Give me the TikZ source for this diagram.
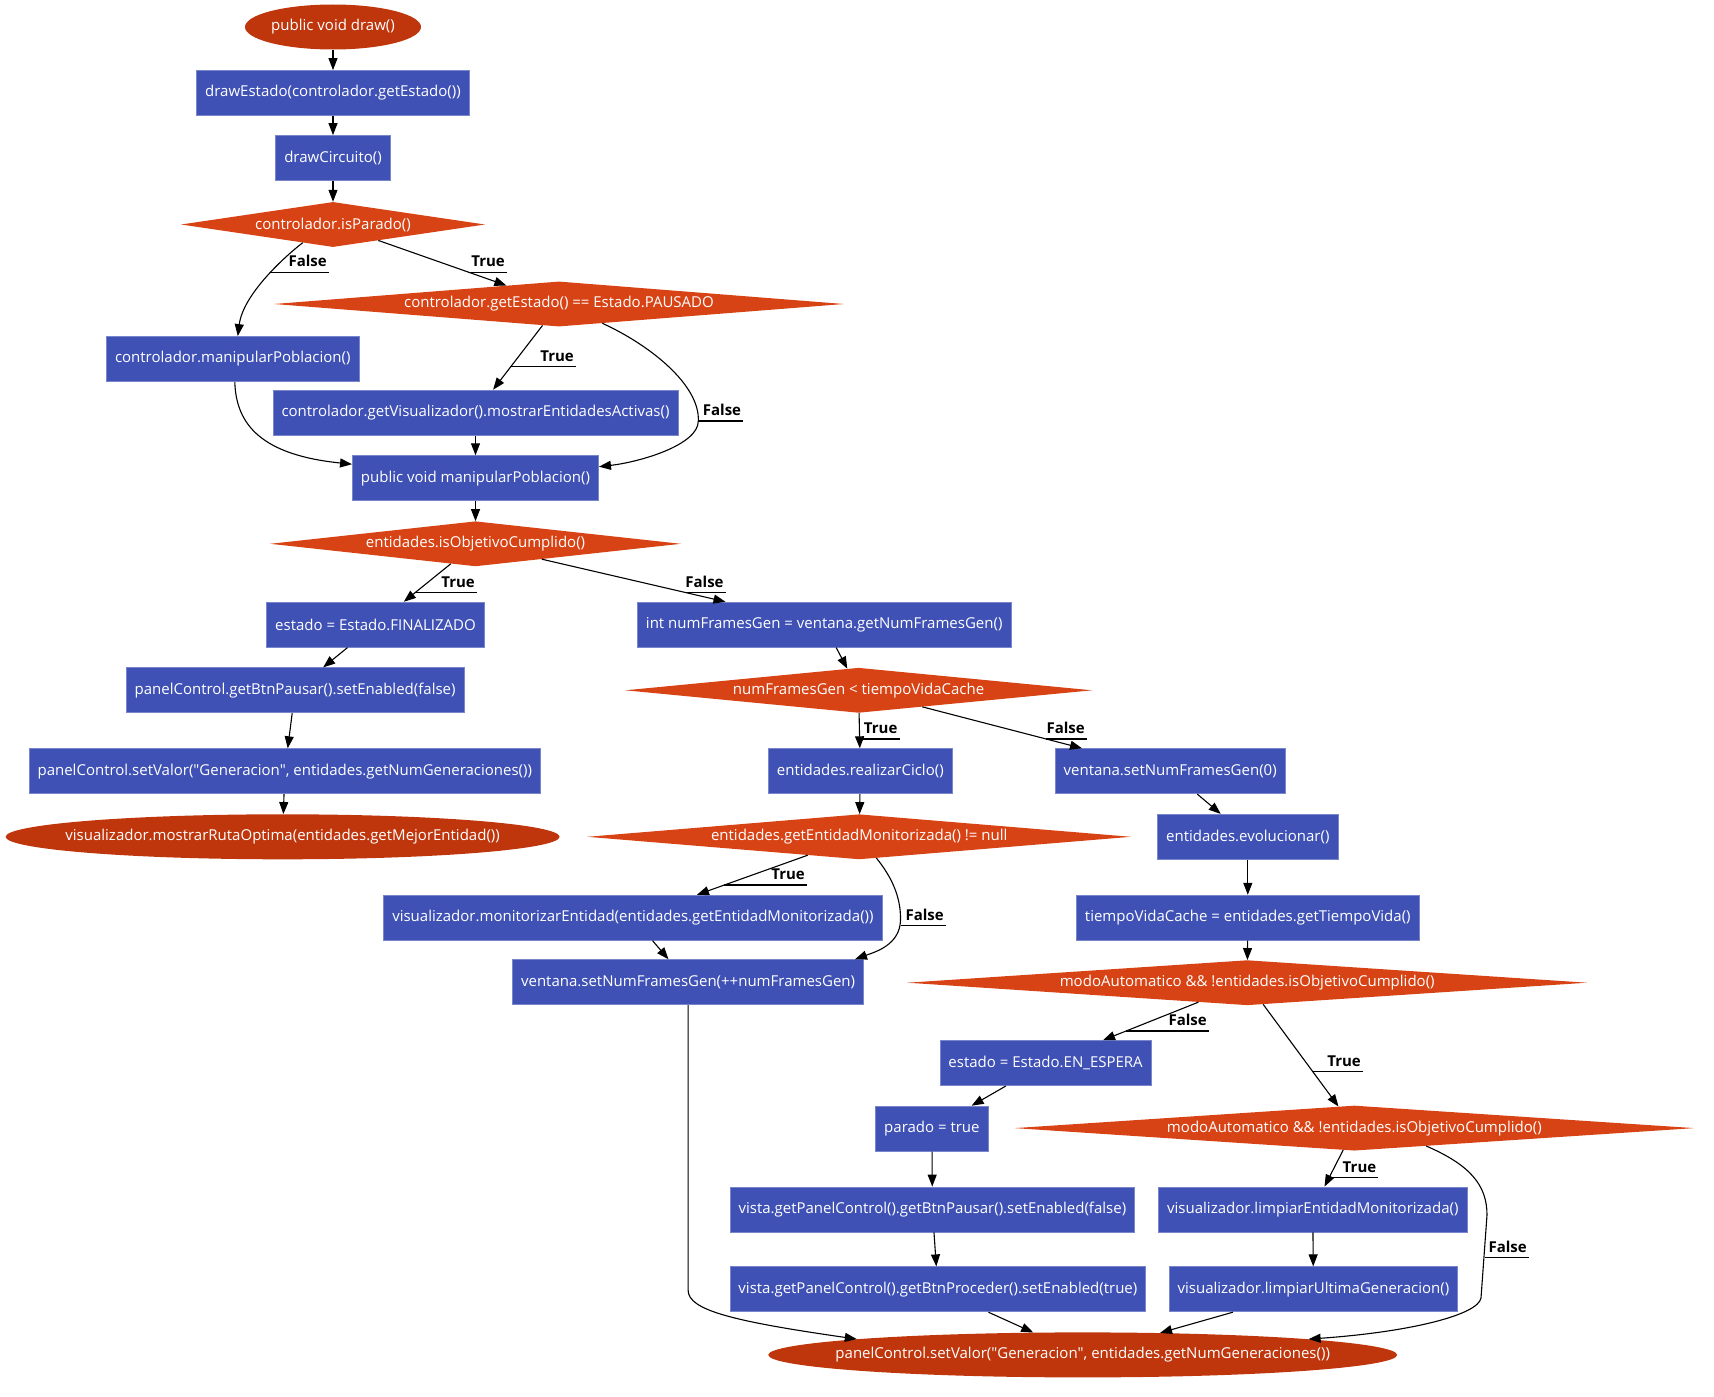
\documentclass[tikz,border=0pt]{standalone}
\usepackage{fontspec}
\setmainfont{Open Sans}
\usetikzlibrary{shapes.geometric,arrows.meta,calc}

\definecolor{boxblue}{HTML}{3F51B5}
\definecolor{boxline}{HTML}{7986CB}
\definecolor{decorange}{HTML}{D84315}
\definecolor{termred}{HTML}{BF360C}

\begin{document}
\begin{tikzpicture}[
        x=1pt, y=-1pt,
        font=\fontsize{15}{17}\selectfont,
        box/.style={rectangle, draw=boxline, line width=0.8pt, fill=boxblue, text=white, minimum height=45pt, inner xsep=8.5pt},
        decision/.style={diamond, fill=decorange, text=white, inner sep=0pt, minimum height=45pt, minimum width=#1, execute at begin node={\hbox to 0pt\bgroup\hss}, execute at end node={\hss\egroup}},
        terminal/.style={ellipse, fill=termred, text=white, inner sep=0pt, minimum height=45pt, minimum width=#1, execute at begin node={\hbox to 0pt\bgroup\hss}, execute at end node={\hss\egroup}},
        arrow/.style={-{Triangle[length=12pt,width=9pt]}, line width=1.1pt},
        lbl/.style={font=\fontsize{15}{17}\selectfont\bfseries, anchor=south east, inner xsep=2pt, inner ysep=5pt}
    ]
    \useasboundingbox (0,0) rectangle (1714,1397);

    \node[terminal=176pt] (draw) at (333,27) {public void draw()};
    \node[box] (estado) at (333,93) {drawEstado(controlador.getEstado())};
    \node[box] (circuito) at (333,158) {drawCircuito()};
    \node[decision=304pt] (parado) at (333,224.5) {controlador.isParado()};
    \node[decision=570pt] (pausado) at (559,304) {controlador.getEstado() == Estado.PAUSADO};
    \node[box] (manipular) at (232.8,359) {controlador.manipularPoblacion()};
    \node[box] (activas) at (475.5,412.6) {controlador.getVisualizador().mostrarEntidadesActivas()};
    \node[box] (poblacion) at (475.5,478.2) {public void manipularPoblacion()};
    \node[decision=411pt] (objetivo) at (475.5,543.8) {entidades.isObjetivoCumplido()};
    \node[box] (finalizado) at (375.5,624.7) {estado = Estado.FINALIZADO};
    \node[box] (frames) at (824.2,624.7) {int numFramesGen = ventana.getNumFramesGen()};
    \node[box] (btnpausar) at (295.1,690.3) {panelControl.getBtnPausar().setEnabled(false)};
    \node[decision=467pt] (cache) at (858.6,690.3) {numFramesGen < tiempoVidaCache};
    \node[box] (valor) at (284.8,771.2) {panelControl.setValor(\textquotedbl Generacion\textquotedbl, entidades.getNumGeneraciones())};
    \node[box] (ciclo) at (860.3,771.2) {entidades.realizarCiclo()};
    \node[box] (framescero) at (1170.2,771.2) {ventana.setNumFramesGen(0)};
    \node[terminal=554pt] (ruta) at (282.6,836.8) {visualizador.mostrarRutaOptima(entidades.getMejorEntidad())};
    \node[decision=544pt] (monitorizada) at (859.2,836.8) {entidades.getEntidadMonitorizada() != null};
    \node[box] (evolucionar) at (1247.8,836.8) {entidades.evolucionar()};
    \node[box] (monitorizar) at (632.9,917.7) {visualizador.monitorizarEntidad(entidades.getEntidadMonitorizada())};
    \node[box] (vida) at (1247.8,917.7) {tiempoVidaCache = entidades.getTiempoVida()};
    \node[box] (framesmas) at (688.1,982.2) {ventana.setNumFramesGen(++numFramesGen)};
    \node[decision=680pt] (modo) at (1247.2,982.7) {modoAutomatico \&\& !entidades.isObjetivoCumplido()};
    \node[box] (espera) at (1045.6,1063.1) {estado = Estado.EN\_ESPERA};
    \node[box] (paradotrue) at (931.9,1128.6) {parado = true};
    \node[decision=680pt] (modobis) at (1354.4,1128.1) {modoAutomatico \&\& !entidades.isObjetivoCumplido()};
    \node[box] (vistapausar) at (932.4,1209.5) {vista.getPanelControl().getBtnPausar().setEnabled(false)};
    \node[box] (limpiarent) at (1312.8,1209.5) {visualizador.limpiarEntidadMonitorizada()};
    \node[box] (vistaproceder) at (937.9,1289.3) {vista.getPanelControl().getBtnProceder().setEnabled(true)};
    \node[box] (limpiarult) at (1313.4,1289.3) {visualizador.limpiarUltimaGeneracion()};
    \node[terminal=629pt] (valorfin) at (1082.7,1354.9) {panelControl.setValor(\textquotedbl Generacion\textquotedbl, entidades.getNumGeneraciones())};

    \draw[arrow] (draw) -- (estado);
    \draw[arrow] (estado) -- (circuito);
    \draw[arrow] (circuito) -- (parado);
    \draw[arrow] (parado.211) .. controls (283,258) and (243,295) .. ([xshift=5pt]manipular.north);
    \draw[arrow] (parado) -- (pausado);
    \draw[arrow] (pausado) -- (activas);
    \draw[arrow] (pausado.-24) .. controls (650,345) and (700,385) .. (698.3,421) .. controls (698.3,445) and (640,462) .. ([yshift=11.5pt]poblacion.east);
    \draw[arrow] ([xshift=2pt]manipular.south) .. controls (236,425) and (262,455) .. ([yshift=14pt]poblacion.west);
    \draw[arrow] (activas) -- (poblacion);
    \draw[arrow] (poblacion) -- (objetivo);
    \draw[arrow] (objetivo) -- (finalizado);
    \draw[arrow] (objetivo) -- (frames);
    \draw[arrow] (finalizado) -- (btnpausar);
    \draw[arrow] (frames) -- (cache);
    \draw[arrow] (btnpausar) -- (valor);
    \draw[arrow] (cache) -- (ciclo);
    \draw[arrow] (cache) -- (framescero);
    \draw[arrow] (valor) -- (ruta);
    \draw[arrow] (ciclo) -- (monitorizada);
    \draw[arrow] (framescero) -- (evolucionar);
    \draw[arrow] (monitorizada) -- (monitorizar);
    \draw[arrow] (monitorizada.-51) .. controls (890,875) and (901,895) .. (900.5,920) .. controls (900,945) and (875,952) .. ([xshift=-9pt]framesmas.north east);
    \draw[arrow] (evolucionar) -- (vida);
    \draw[arrow] (monitorizar) -- (framesmas);
    \draw[arrow] (vida) -- (modo);
    \draw[arrow] (framesmas.south) -- ++(0,285) .. controls +(0,20) and +(-125,-18) .. (valorfin.176);
    \draw[arrow] (modo) -- (espera);
    \draw[arrow] (modo) -- (modobis);
    \draw[arrow] (espera) -- (paradotrue);
    \draw[arrow] (paradotrue) -- (vistapausar);
    \draw[arrow] (modobis) -- (limpiarent);
    \draw[arrow] (modobis.-14) .. controls (1470,1165) and (1487,1185) .. (1487,1215) -- (1481,1298) .. controls (1478,1315) and (1410,1332) .. (valorfin.4);
    \draw[arrow] (vistapausar) -- (vistaproceder);
    \draw[arrow] (limpiarent) -- (limpiarult);
    \draw[arrow] (vistaproceder) -- (valorfin);
    \draw[arrow] (limpiarult) -- (valorfin);

    % edge labels, underlined back to their edge
    \node[lbl] (fparado) at (329,272.3) {False};
    \draw[line width=1.1pt] (270,272.3) -- (fparado.south east);
    \node[lbl] (tparado) at (507,272.3) {True};
    \draw[line width=1.1pt] (467.8,272.3) -- (tparado.south east);
    \node[lbl] (tpausado) at (576,366.7) {True};
    \draw[line width=1.1pt] (510.8,366.7) -- (tpausado.south east);
    \node[lbl] (fpausado) at (743.3,421) {False};
    \draw[line width=1.1pt] (698.3,421) -- (fpausado.south east);
    \node[lbl] (tobjetivo) at (477,592.7) {True};
    \draw[line width=1.1pt] (415.1,592.7) -- (tobjetivo.south east);
    \node[lbl] (fobjetivo) at (725.8,592.7) {False};
    \draw[line width=1.1pt] (686.3,592.7) -- (fobjetivo.south east);
    \node[lbl] (tcache) at (899.6,739) {True};
    \draw[line width=1.1pt] (860,739) -- (tcache.south east);
    \node[lbl] (fcache) at (1087,739) {False};
    \draw[line width=1.1pt] (1046.2,739) -- (fcache.south east);
    \node[lbl] (tmonit) at (807,885) {True};
    \draw[line width=1.1pt] (724.4,885) -- (tmonit.south east);
    \node[lbl] (fmonit) at (946,925.7) {False};
    \draw[line width=1.1pt] (900.5,925.7) -- (fmonit.south east);
    \node[lbl] (fmodo) at (1209,1031) {False};
    \draw[line width=1.1pt] (1126.1,1031) -- (fmodo.south east);
    \node[lbl] (tmodo) at (1363,1071.7) {True};
    \draw[line width=1.1pt] (1312.8,1071.7) -- (tmodo.south east);
    \node[lbl] (tmodobis) at (1378.4,1177.7) {True};
    \draw[line width=1.1pt] (1329,1177.7) -- (tmodobis.south east);
    \node[lbl] (fmodobis) at (1529,1257.7) {False};
    \draw[line width=1.1pt] (1485,1257.7) -- (fmodobis.south east);

\end{tikzpicture}
\end{document}
